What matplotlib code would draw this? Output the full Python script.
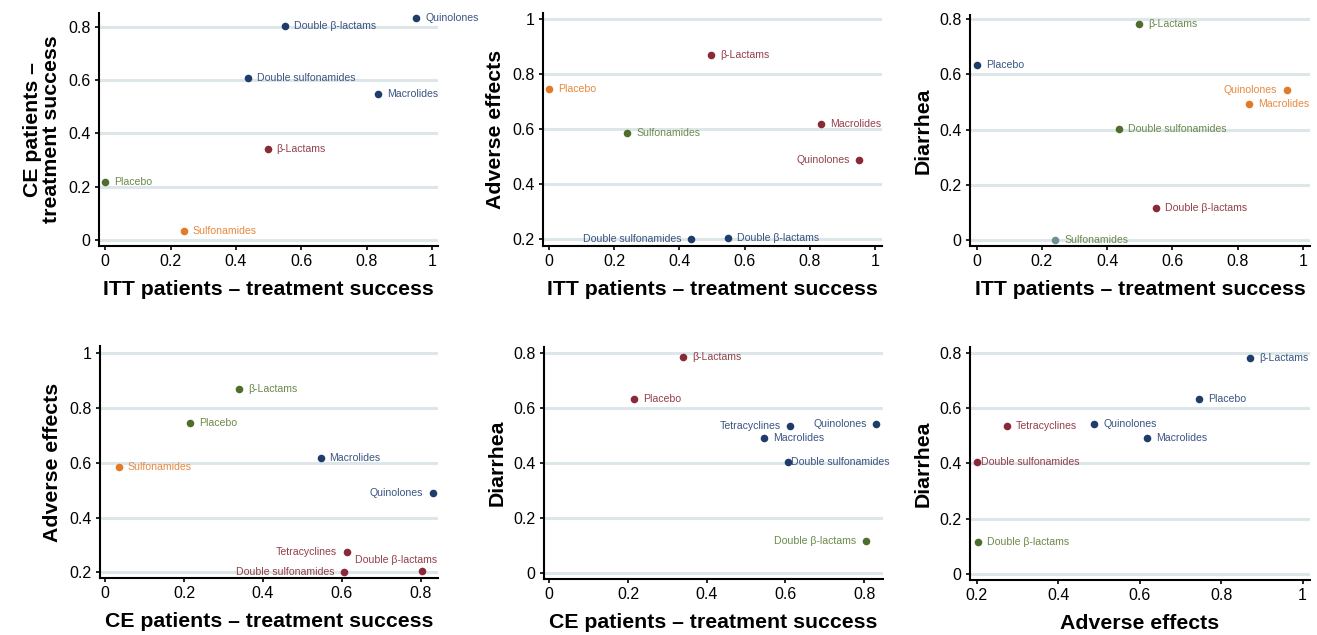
import numpy as np
import matplotlib
matplotlib.use("Agg")
import matplotlib.pyplot as plt

plt.rcParams["font.family"] = ["Liberation Sans", "DejaVu Sans"]

# Значения по препаратам (нормированные показатели)
drugs = ["Placebo", "Sulfonamides", "β-Lactams", "Double sulfonamides",
         "Double β-lactams", "Macrolides", "Quinolones", "Tetracyclines"]
itt = [0.0, 0.24, 0.497, 0.436, 0.549, 0.835, 0.951, np.nan]
ce = [0.216, 0.034, 0.34, 0.606, 0.804, 0.546, 0.831, 0.612]
adverse = [0.745, 0.584, 0.871, 0.201, 0.203, 0.619, 0.489, 0.274]
diarrhea = [0.632, 0.0, 0.782, 0.403, 0.117, 0.491, 0.542, 0.533]

itt_label = "ITT patients – treatment success"
ce_label = "CE patients – treatment success"

# Цвета кластеров: точка и подпись
colors = {
    "b": ("#1f3d6b", "#3a5582"),
    "r": ("#8a2a36", "#94404a"),
    "g": ("#4e6e2e", "#6b8a4a"),
    "o": ("#e27a28", "#e6893e"),
    "t": ("#6f9090", "#6b8a4a"),
}

# Кластер и положение подписи для каждого графика
clusters_1 = {"Placebo": "g", "Sulfonamides": "o", "β-Lactams": "r", "Double sulfonamides": "b",
              "Double β-lactams": "b", "Macrolides": "b", "Quinolones": "b"}
clusters_2 = {"Placebo": "o", "Sulfonamides": "g", "β-Lactams": "r", "Double sulfonamides": "b",
              "Double β-lactams": "b", "Macrolides": "r", "Quinolones": "r"}
clusters_3 = {"Placebo": "b", "Sulfonamides": "t", "β-Lactams": "g", "Double sulfonamides": "g",
              "Double β-lactams": "r", "Macrolides": "o", "Quinolones": "o"}
clusters_4 = {"Placebo": "g", "Sulfonamides": "o", "β-Lactams": "g", "Double sulfonamides": "r",
              "Double β-lactams": "r", "Macrolides": "b", "Quinolones": "b", "Tetracyclines": "r"}
clusters_5 = {"Placebo": "r", "β-Lactams": "r", "Double sulfonamides": "b",
              "Double β-lactams": "g", "Macrolides": "b", "Quinolones": "b", "Tetracyclines": "b"}
clusters_6 = {"Placebo": "b", "β-Lactams": "b", "Double sulfonamides": "r",
              "Double β-lactams": "g", "Macrolides": "b", "Quinolones": "b", "Tetracyclines": "r"}

left_2 = {"Double sulfonamides", "Quinolones"}
left_3 = {"Quinolones"}
left_4 = {"Double sulfonamides", "Quinolones", "Tetracyclines"}
left_5 = {"Tetracyclines", "Quinolones", "Double β-lactams"}
tight_5 = {"Double sulfonamides"}
tight_6 = {"Double sulfonamides"}
above_4 = {"Double β-lactams"}

W, H = 1317, 635
fig = plt.figure(figsize=(W / 100, H / 100), dpi=100)


def add_axes(x0, x1, y0, y1):
    # прямоугольник в пикселях (сверху вниз) -> доли фигуры
    return fig.add_axes([x0 / W, 1 - y1 / H, (x1 - x0) / W, (y1 - y0) / H])


def scatter_panel(ax, xs, ys, clusters, xlabel, ylabel, xlim, ylim, xticks, yticks,
                  left=(), tight=(), above=()):
    for name, key in clusters.items():
        i = drugs.index(name)
        dot, txt = colors[key]
        ax.scatter(xs[i], ys[i], s=30, color=dot, zorder=3, linewidths=0)
        if name in above:
            off, ha = (11, 8), "right"
        elif name in left:
            off, ha = (-7, 0), "right"
        elif name in tight:
            off, ha = (2.5, 0), "left"
        else:
            off, ha = (6.5, 0), "left"
        ax.annotate(name, (xs[i], ys[i]), xytext=off, textcoords="offset points",
                    ha=ha, va="center", fontsize=7.6, color=txt, zorder=4)

    ax.set_xlim(*xlim)
    ax.set_ylim(*ylim)
    ax.set_xticks(xticks)
    ax.set_yticks(yticks)
    ax.set_xticklabels([f"{v:g}" for v in xticks])
    ax.set_yticklabels([f"{v:g}" for v in yticks])
    ax.yaxis.grid(True, color="#dde7ea", linewidth=2.2, zorder=0)
    ax.set_axisbelow(True)
    for side in ["top", "right"]:
        ax.spines[side].set_visible(False)
    for side in ["left", "bottom"]:
        ax.spines[side].set_linewidth(1.5)
    ax.tick_params(labelsize=11.5, length=3, width=1.2, pad=3)
    ax.set_xlabel(xlabel, fontsize=15.3, fontweight="bold", labelpad=8)
    ax.set_ylabel(ylabel, fontsize=15.3, fontweight="bold", labelpad=5, linespacing=1.0)


t5 = [0, 0.2, 0.4, 0.6, 0.8, 1]
t4 = [0, 0.2, 0.4, 0.6, 0.8]
a5 = [0.2, 0.4, 0.6, 0.8, 1]

ax1 = add_axes(99, 438, 13, 246)
scatter_panel(ax1, itt, ce, clusters_1, itt_label, "CE patients –\ntreatment success",
              (-0.019, 1.018), (-0.0225, 0.851), t5, t4)

ax2 = add_axes(543, 882, 13, 246)
scatter_panel(ax2, itt, adverse, clusters_2, itt_label, "Adverse effects",
              (-0.018, 1.021), (0.175, 1.022), t5, a5, left=left_2)

ax3 = add_axes(970, 1310, 15, 246)
scatter_panel(ax3, itt, diarrhea, clusters_3, itt_label, "Diarrhea",
              (-0.0205, 1.022), (-0.0217, 0.8145), t5, t4, left=left_3)

ax4 = add_axes(100, 438, 346, 578)
scatter_panel(ax4, ce, adverse, clusters_4, ce_label, "Adverse effects",
              (-0.0134, 0.844), (0.179, 1.027), t4, a5, left=left_4, above=above_4)

ax5 = add_axes(544, 883, 347, 579)
scatter_panel(ax5, ce, diarrhea, clusters_5, ce_label, "Diarrhea",
              (-0.0135, 0.848), (-0.0218, 0.820), t4, t4, left=left_5, tight=tight_5)

ax6 = add_axes(970, 1310, 347, 580)
scatter_panel(ax6, adverse, diarrhea, clusters_6, "Adverse effects", "Diarrhea",
              (0.1836, 1.018), (-0.0217, 0.820), a5, t4, tight=tight_6)

fig.savefig("out.png", dpi=100)
plt.close(fig)
